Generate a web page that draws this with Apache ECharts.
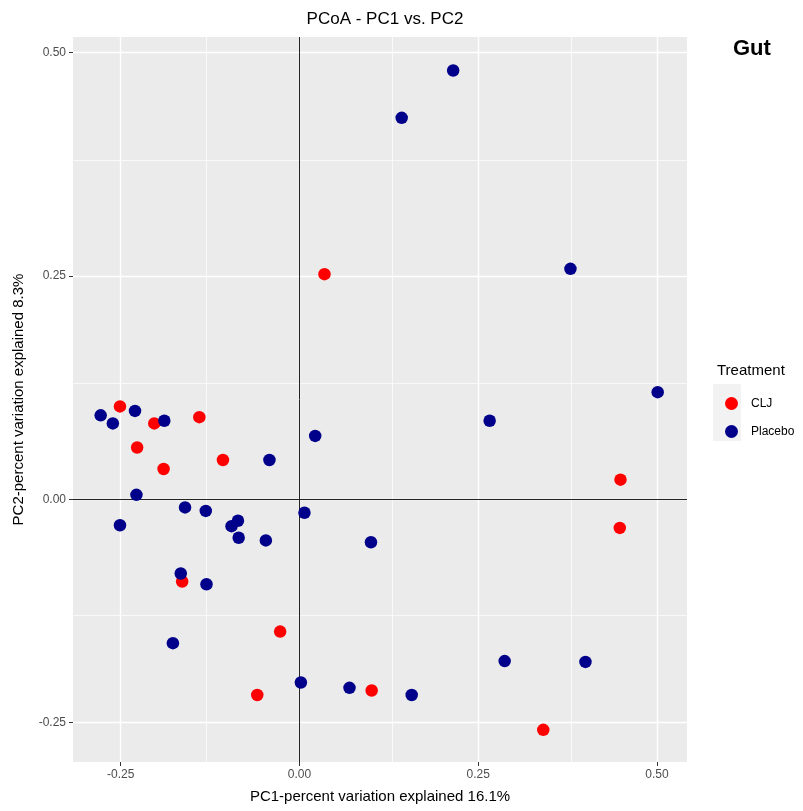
<!DOCTYPE html>
<html>
<head>
<meta charset="utf-8">
<script src="https://cdn.jsdelivr.net/npm/echarts@6/dist/echarts.min.js"></script>
<style>
  html, body { margin: 0; padding: 0; background: #fff; }
  #chart { width: 803px; height: 811px; }
</style>
</head>
<body>
<div id="chart"></div>
<script>
// PC1 / PC2 coordinates
var cljPC1 = [-0.251, -0.203, -0.140, -0.227, -0.190, -0.107, -0.164, -0.027, -0.059, 0.035, 0.449, 0.448, 0.101, 0.341];
var cljPC2 = [0.104, 0.085, 0.092, 0.058, 0.034, 0.044, -0.092, -0.148, -0.219, 0.252, 0.022, -0.032, -0.214, -0.258];

var placeboPC1 = [0.215, 0.143, 0.379, 0.501, 0.022, 0.266, 0.007, 0.100, 0.287, 0.400, 0.002, 0.070, 0.157,
  -0.278, -0.230, -0.261, -0.189, -0.042, -0.228, -0.160, -0.131, -0.251, -0.086, -0.095, -0.085, -0.047, -0.166, -0.130, -0.177];
var placeboPC2 = [0.480, 0.427, 0.258, 0.120, 0.071, 0.088, -0.015, -0.048, -0.181, -0.182, -0.205, -0.211, -0.219,
  0.094, 0.099, 0.085, 0.088, 0.044, 0.005, -0.009, -0.013, -0.029, -0.024, -0.030, -0.043, -0.046, -0.083, -0.095, -0.161];

var majorTicks = [-0.25, 0, 0.25, 0.5];
var minorTicks = [-0.125, 0.125, 0.375];

var font = "'Liberation Sans', Arial, Helvetica, sans-serif";

function pairs(xs, ys) {
  return xs.map(function (x, i) { return [x, ys[i]]; });
}

function gl(key, v, color, width) {
  var d = { lineStyle: { color: color, width: width, type: "solid" } };
  d[key] = v;
  return d;
}

var gridLines = [];
majorTicks.forEach(function (v) {
  gridLines.push(gl("xAxis", v, "#fff", 1.4));
  gridLines.push(gl("yAxis", v, "#fff", 1.4));
});
minorTicks.forEach(function (v) {
  gridLines.push(gl("xAxis", v, "#fff", 0.7));
  gridLines.push(gl("yAxis", v, "#fff", 0.7));
});
// reference lines through origin
gridLines.push(gl("xAxis", 0, "#222", 1));
gridLines.push(gl("yAxis", 0, "#222", 1));

var axisCommon = {
  type: "value",
  nameLocation: "middle",
  nameTextStyle: { fontFamily: font, fontSize: 15, color: "#000" },
  axisLine: { show: true, onZero: false, lineStyle: { color: "#EBEBEB", width: 0, opacity: 0 } },
  splitLine: { show: false },
  axisTick: { show: true, length: 4, customValues: majorTicks, lineStyle: { color: "#333", width: 1 } },
  axisLabel: {
    customValues: majorTicks,
    fontFamily: font,
    fontSize: 12,
    color: "#4D4D4D",
    formatter: function (v) { return v.toFixed(2); }
  }
};

var myChart = echarts.init(document.getElementById("chart"));
var option = {
  animation: false,
  backgroundColor: "#fff",
  title: [
    {
      text: "PCoA - PC1 vs. PC2",
      left: 380,
      top: 6,
      textAlign: "center",
      textStyle: { fontFamily: font, fontSize: 17, fontWeight: "normal", color: "#000" }
    },
    {
      text: "Gut",
      left: 728,
      top: 33,
      textStyle: { fontFamily: font, fontSize: 22, fontWeight: "bold", color: "#000" }
    },
    {
      text: "Treatment",
      left: 712,
      top: 358,
      textStyle: { fontFamily: font, fontSize: 15, fontWeight: "normal", color: "#000" }
    }
  ],
  legend: {
    data: ["CLJ", "Placebo"],
    orient: "vertical",
    left: 720,
    top: 392,
    icon: "circle",
    itemWidth: 13,
    itemHeight: 13,
    itemGap: 15,
    textStyle: { fontFamily: font, fontSize: 12, color: "#000", padding: [0, 0, 0, 8] }
  },
  graphic: [
    { type: "rect", left: 713, top: 384, shape: { width: 28, height: 57 }, style: { fill: "#F2F2F2" }, z: -1 }
  ],
  grid: {
    left: 73,
    top: 37,
    right: 116,
    bottom: 49,
    show: true,
    backgroundColor: "#EBEBEB",
    borderWidth: 0
  },
  xAxis: Object.assign({}, axisCommon, {
    min: -0.3167,
    max: 0.542,
    name: "PC1-percent variation explained 16.1%",
    nameGap: 27,
    axisLabel: Object.assign({}, axisCommon.axisLabel, { margin: 7 })
  }),
  yAxis: Object.assign({}, axisCommon, {
    min: -0.294,
    max: 0.5175,
    name: "PC2-percent variation explained 8.3%",
    nameGap: 47,
    axisLabel: Object.assign({}, axisCommon.axisLabel, { margin: 7 })
  }),
  series: [
    {
      name: "grid",
      type: "scatter",
      data: [],
      z: 1,
      silent: true,
      markLine: {
        silent: true,
        symbol: "none",
        z: 1,
        label: { show: false },
        emphasis: { disabled: true },
        data: gridLines
      }
    },
    {
      name: "CLJ",
      type: "scatter",
      z: 5,
      symbolSize: 12.5,
      itemStyle: { color: "#FF0000", opacity: 1 },
      data: pairs(cljPC1, cljPC2)
    },
    {
      name: "Placebo",
      type: "scatter",
      z: 5,
      symbolSize: 12.5,
      itemStyle: { color: "#00008B", opacity: 1 },
      data: pairs(placeboPC1, placeboPC2)
    }
  ]
};
myChart.setOption(option);
</script>
</body>
</html>
